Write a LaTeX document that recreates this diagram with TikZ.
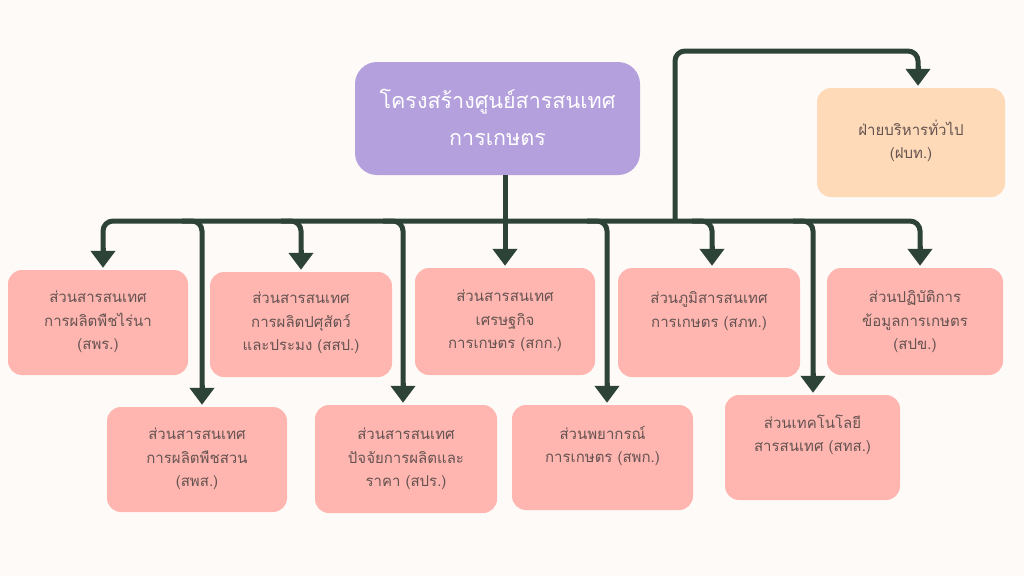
\documentclass[tikz,border=0pt]{standalone}
\usepackage{fontspec}
\newfontfamily\thai[Script=Thai]{Loma}
\usetikzlibrary{arrows.meta}
\definecolor{bgc}{HTML}{FEFAF7}
\definecolor{linec}{HTML}{2E4337}
\definecolor{pinkc}{HTML}{FFB6B0}
\definecolor{orangec}{HTML}{FFDAB8}
\definecolor{purplec}{HTML}{B3A0DD}
\definecolor{txtc}{HTML}{655351}
\tikzset{
  box/.style={rectangle, rounded corners=14pt, fill=pinkc, inner sep=0pt},
  obox/.style={box, fill=orangec},
  tbox/.style={rectangle, rounded corners=22pt, fill=purplec, inner sep=0pt},
  txt/.style={align=center, text=txtc, font=\thai\fontsize{15}{23.5}\selectfont, inner sep=0pt},
  ttxt/.style={align=center, text=white, font=\thai\fontsize{21.5}{37}\selectfont, inner sep=0pt},
  link/.style={draw=linec, line width=5pt, rounded corners=10pt},
  lk/.style={link, shorten >=14pt},
  tip/.style={draw=linec, line width=5pt, sharp corners, -{Triangle[width=24pt,length=17pt]}},
}
\begin{document}
\begin{tikzpicture}[x=1pt,y=-1pt]
\fill[bgc] (0,0) rectangle (1024,576);
\useasboundingbox (0,0) rectangle (1024,576);

% boxes
\node[tbox, minimum width=285pt, minimum height=113pt] (title) at (497.5,118.5) {};
\node[obox, minimum width=188pt, minimum height=109pt] (bo) at (911,142.5) {};
\node[box, minimum width=180pt, minimum height=105pt] (b1) at (98,322.5) {};
\node[box, minimum width=182pt, minimum height=105pt] (b2) at (301,324.5) {};
\node[box, minimum width=180pt, minimum height=107pt] (b3) at (505,321.5) {};
\node[box, minimum width=182pt, minimum height=109pt] (b4) at (709,322.5) {};
\node[box, minimum width=176pt, minimum height=107pt] (b5) at (915,321.5) {};
\node[box, minimum width=180pt, minimum height=105pt] (b6) at (197,459.5) {};
\node[box, minimum width=182pt, minimum height=108pt] (b7) at (406,459) {};
\node[box, minimum width=181pt, minimum height=105pt] (b8) at (602.5,457.5) {};
\node[box, minimum width=175pt, minimum height=105pt] (b9) at (812.5,447.5) {};

% texts
\node[ttxt] (tt) at (497.5,117) {โครงสร้างศูนย์สารสนเทศ\\การเกษตร};
\node[txt] (to) at (911,141) {ฝ่ายบริหารทั่วไป\\(ฝบท.)};
\node[txt] (t1) at (98,322) {ส่วนสารสนเทศ\\การผลิตพืชไร่นา\\(สพร.)};
\node[txt] (t2) at (301,323) {ส่วนสารสนเทศ\\การผลิตปศุสัตว์\\และประมง (สสป.)};
\node[txt] (t3) at (505,321) {ส่วนสารสนเทศ\\เศรษฐกิจ\\การเกษตร (สกก.)};
\node[txt] (t4) at (709,311) {ส่วนภูมิสารสนเทศ\\การเกษตร (สภท.)};
\node[txt] (t5) at (915,322) {ส่วนปฏิบัติการ\\ข้อมูลการเกษตร\\(สปข.)};
\node[txt] (t6) at (197,459) {ส่วนสารสนเทศ\\การผลิตพืชสวน\\(สพส.)};
\node[txt] (t7) at (406,459) {ส่วนสารสนเทศ\\ปัจจัยการผลิตและ\\ราคา (สปร.)};
\node[txt] (t8) at (602.5,446) {ส่วนพยากรณ์\\การเกษตร (สพก.)};
\node[txt] (t9) at (812.5,435) {ส่วนเทคโนโลยี\\สารสนเทศ (สทส.)};

% bus coordinates
\coordinate (bus) at (505,221);
\coordinate (s6) at (182,221);
\coordinate (s2) at (281,221);
\coordinate (s7) at (383,221);
\coordinate (s8) at (587,221);
\coordinate (s4) at (692,221);
\coordinate (s9) at (793,221);
\coordinate (up) at (675,221);
% arrow end points
\coordinate (e1) at (103,0 |- b1.north);
\coordinate (e2) at (301,0 |- b2.north);
\coordinate (e3) at (bus |- b3.north);
\coordinate (e4) at (712,0 |- b4.north);
\coordinate (e5) at (920,0 |- b5.north);
\coordinate (e6) at (202,0 |- b6.north);
\coordinate (e7) at (403,0 |- b7.north);
\coordinate (e8) at (607,0 |- b8.north);
\coordinate (e9) at (813,0 |- b9.north);
\coordinate (eo) at (918,0 |- bo.north);

% connectors
\draw[link] (bus |- title.south) -- (bus);
\draw[lk] (bus) -| (e1);
\draw[lk] (bus) -| (e5);
\draw[lk] (bus) -- (e3);
\draw[lk] (s2) -| (e2);
\draw[lk] (s4) -| (e4);
\draw[lk] (s6) -| (e6);
\draw[lk] (s7) -| (e7);
\draw[lk] (s8) -| (e8);
\draw[lk] (s9) -| (e9);
\draw[lk] (up) |- (800,51) -| (eo);
% arrow tips
\foreach \e in {e1,e2,e3,e4,e5,e6,e7,e8,e9,eo}
  \draw[tip] ([yshift=22pt]\e) -- ([yshift=2pt]\e);
\end{tikzpicture}
\end{document}
